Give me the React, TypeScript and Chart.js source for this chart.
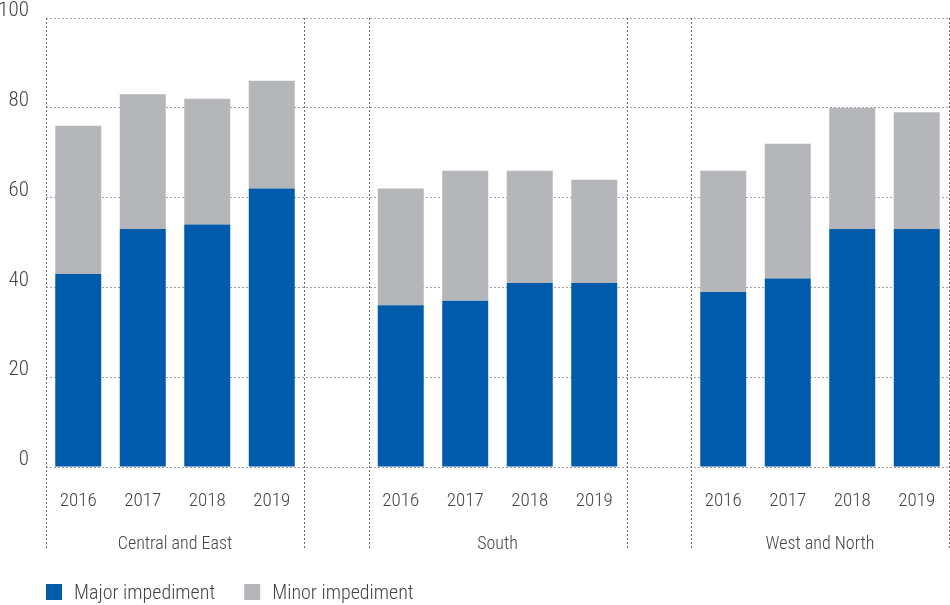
import React, { useEffect, useRef } from 'react';
import { Chart, registerables } from 'chart.js';

Chart.register(...registerables);

const categories = ['2016', '2017', '2018', '2019', '', '2016', '2017', '2018', '2019', '', '2016', '2017', '2018', '2019'];
const groupNames = ['Central and East', 'South', 'West and North'];
const groupStarts = [0, 5, 10];
const groupSize = 4;
const boundaries = [0, 4, 5, 9, 10, 14];
const majorValues = [43, 53, 54, 62, null, 36, 37, 41, 41, null, 39, 42, 53, 53];
const minorValues = [33, 30, 28, 24, null, 26, 29, 25, 23, null, 27, 30, 27, 26];
const yTickValues = [0, 20, 40, 60, 80, 100];
const seriesNames = ['Major impediment', 'Minor impediment'];
const seriesColors = ['#005BAA', '#B5B6BA'];

const FONT = "'Roboto Condensed', 'DejaVu Sans Condensed', 'Roboto', sans-serif";
const TEXT = '#444444';

const overlay = {
  id: 'overlay',
  beforeDatasetsDraw(chart: any) {
    const { ctx, chartArea, scales } = chart;
    const x = scales.x;
    const half = (x.getPixelForValue(1) - x.getPixelForValue(0)) / 2;
    ctx.save();
    ctx.strokeStyle = '#6a6a6a';
    ctx.lineWidth = 1;
    ctx.setLineDash([2, 2]);
    boundaries.forEach((b) => {
      let px = Math.round(x.getPixelForValue(b) - half) + 0.5;
      if (px > chart.width - 0.5) px = chart.width - 0.5;
      ctx.beginPath();
      ctx.moveTo(px, chartArea.top);
      ctx.lineTo(px, chartArea.bottom + 81);
      ctx.stroke();
    });
    ctx.restore();
  },
  afterDraw(chart: any) {
    const { ctx, chartArea, scales } = chart;
    const x = scales.x;
    ctx.save();
    ctx.fillStyle = TEXT;
    ctx.font = `300 18px ${FONT}`;
    ctx.textAlign = 'center';
    ctx.textBaseline = 'alphabetic';
    groupNames.forEach((g, i) => {
      const a = x.getPixelForValue(groupStarts[i]);
      const b = x.getPixelForValue(groupStarts[i] + groupSize - 1);
      ctx.fillText(g, (a + b) / 2, chartArea.bottom + 82);
    });
    ctx.font = `300 20px ${FONT}`;
    ctx.textAlign = 'left';
    let lx = chartArea.left;
    const boxTop = chartArea.bottom + 117;
    seriesNames.forEach((name, i) => {
      ctx.fillStyle = seriesColors[i];
      ctx.fillRect(lx, boxTop, 16, 16);
      ctx.fillStyle = TEXT;
      ctx.fillText(name, lx + 28, boxTop + 15);
      lx += 28 + ctx.measureText(name).width + 29;
    });
    ctx.restore();
  },
};

export default function App() {
  const ref = useRef<HTMLCanvasElement>(null);
  useEffect(() => {
    document.body.style.margin = '0';
    const chart = new Chart(ref.current!, {
      type: 'bar',
      data: {
        labels: categories,
        datasets: [
          { label: seriesNames[0], data: majorValues as any, backgroundColor: seriesColors[0], categoryPercentage: 1, barPercentage: 0.713 },
          { label: seriesNames[1], data: minorValues as any, backgroundColor: seriesColors[1], categoryPercentage: 1, barPercentage: 0.713 },
        ],
      },
      options: {
        animation: false,
        responsive: false,
        layout: { padding: { top: 18, right: 1, left: 0, bottom: 0 } },
        plugins: { legend: { display: false }, tooltip: { enabled: false } },
        scales: {
          x: {
            stacked: true,
            grid: { display: false },
            border: { display: false },
            ticks: { color: TEXT, font: { family: FONT, size: 19, weight: '300' }, padding: 15, maxRotation: 0, autoSkip: false },
            afterFit(scale: any) {
              scale.height = 138;
              scale.paddingLeft = 0;
              scale.paddingRight = 0;
            },
          },
          y: {
            stacked: true,
            min: 0,
            max: 100,
            afterBuildTicks(scale: any) { scale.ticks = yTickValues.map((v) => ({ value: v })); },
            grid: { color: '#a0a0a0', drawTicks: false, lineWidth: 1 },
            border: { display: false, dash: [2, 2] },
            ticks: { color: TEXT, font: { family: FONT, size: 21, weight: '300' }, padding: 17, labelOffset: -7 },
            afterFit(scale: any) {
              scale.width = 46;
              scale.paddingTop = 0;
              scale.paddingBottom = 0;
            },
          },
        },
      },
      plugins: [overlay],
    });
    return () => chart.destroy();
  }, []);
  return <canvas ref={ref} width={950} height={605} />;
}
